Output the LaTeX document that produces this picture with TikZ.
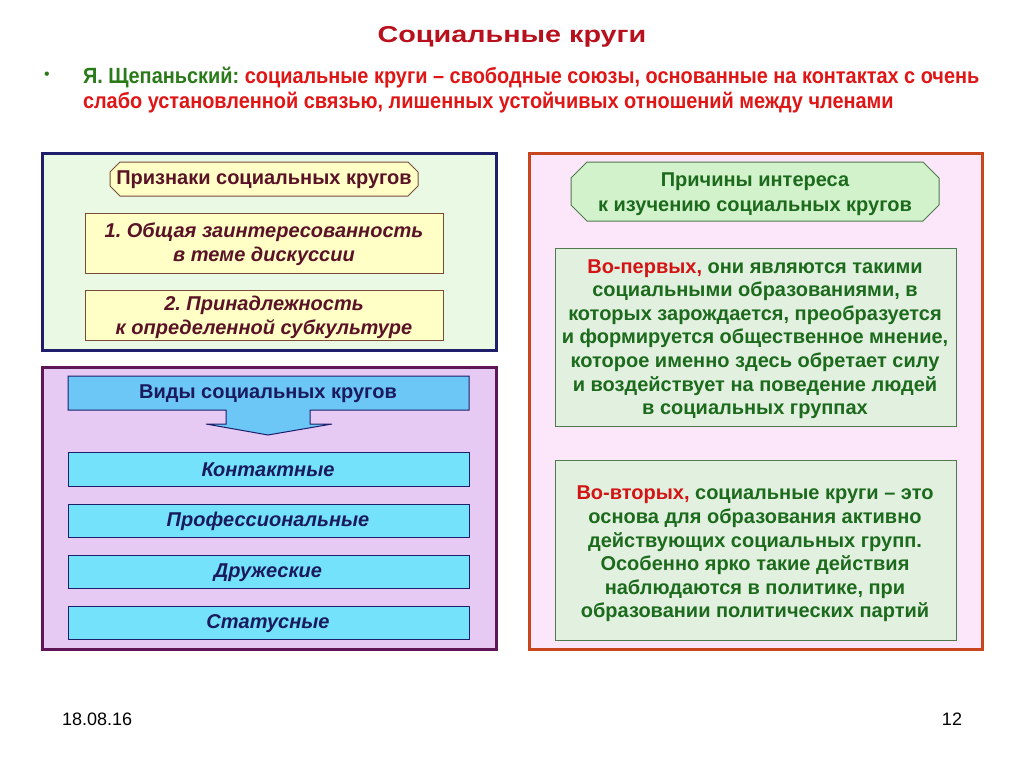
\documentclass[tikz,border=0pt]{standalone}
\usepackage{fontspec}
\setmainfont{Liberation Sans}
\newfontfamily\narrowfont[FakeStretch=0.905]{Liberation Sans}
\newfontfamily\widefont[FakeStretch=1.25]{Liberation Sans}
\usetikzlibrary{calc}
\frenchspacing
\definecolor{titlered}{HTML}{B8101C}
\definecolor{defgreen}{HTML}{2A7A1A}
\definecolor{defred}{HTML}{E01515}
\definecolor{navyb}{HTML}{1E1E6A}
\definecolor{greenbg}{HTML}{E9F9E4}
\definecolor{purpleb}{HTML}{5E1656}
\definecolor{lavbg}{HTML}{E6CAF4}
\definecolor{orangeb}{HTML}{C8461E}
\definecolor{pinkbg}{HTML}{FCE6FA}
\definecolor{yelbg}{HTML}{FFFFC6}
\definecolor{yelborder}{HTML}{7A4A3A}
\definecolor{maroon}{HTML}{5A1226}
\definecolor{bluehead}{HTML}{6CC6F6}
\definecolor{cyanitem}{HTML}{74E2FA}
\definecolor{navytext}{HTML}{1A1A5E}
\definecolor{lightgreenhead}{HTML}{D2F2CC}
\definecolor{greytextbox}{HTML}{E2F0E0}
\definecolor{darkgreentext}{HTML}{1C6A1C}
\definecolor{boxgreenborder}{HTML}{4E7A4E}
\definecolor{redword}{HTML}{D41414}
\tikzset{
  every node/.style={inner sep=0pt, outer sep=0pt},
  outerbox/.style={line width=3pt},
  yelitem/.style={draw=yelborder, fill=yelbg, line width=0.9pt},
  yeltext/.style={text=maroon, font=\bfseries\itshape\fontsize{20}{24}\selectfont, align=center},
  cyanbox/.style={draw=navyb, fill=cyanitem, line width=1pt},
  cyantext/.style={text=navytext, font=\bfseries\itshape\fontsize{20}{22}\selectfont},
  greenbox/.style={draw=boxgreenborder, fill=greytextbox, line width=1pt},
  greentext/.style={text=darkgreentext, font=\bfseries\fontsize{20}{23.6}\selectfont, align=center},
}
\begin{document}
\begin{tikzpicture}[x=1pt,y=-1pt]
\useasboundingbox[fill=white] (0,0) rectangle (1024,768);
% title
\node[text=titlered, font=\widefont\bfseries\fontsize{23}{26}\selectfont] (title) at (512,37) {Социальные круги};
% bullet
\node[text=defgreen, font=\fontsize{16}{18}\selectfont] (bullet) at (47,76) {•};
\node[anchor=west, font=\narrowfont\bfseries\fontsize{22}{24}\selectfont] (def1) at (83,78)
  {\textcolor{defgreen}{Я. Щепаньский:} \textcolor{defred}{социальные круги – свободные союзы, основанные на контактах с очень}};
\node[anchor=west, text=defred, font=\narrowfont\bfseries\fontsize{22}{24}\selectfont] (def2) at (83,103)
  {слабо установленной связью, лишенных устойчивых отношений между членами};
% left top
\draw[outerbox, draw=navyb, fill=greenbg] (42,153) rectangle (496,350);
\draw[draw=yelborder, fill=yelbg, line width=1pt]
  (120,162) -- (408,162) -- (418,172) -- (418,186) -- (408,196) -- (120,196) -- (110,186) -- (110,172) -- cycle;
\node[text=maroon, font=\bfseries\fontsize{20}{22}\selectfont] (prizn) at (264,180) {Признаки социальных кругов};
\draw[yelitem] (85,213) rectangle (443,273);
\node[yeltext] (p1) at (264,244) {1. Общая заинтересованность\\в теме дискуссии};
\draw[yelitem] (85,290) rectangle (443,340);
\node[yeltext] (p2) at (264,317) {2. Принадлежность\\к определенной субкультуре};
% left bottom
\draw[outerbox, draw=purpleb, fill=lavbg] (42,367) rectangle (496,649);
\draw[draw=navyb, fill=bluehead, line width=1pt]
  (68,376) -- (469,376) -- (469,410) -- (310,410) -- (310,424) -- (332,424) -- (268,435)
  -- (206,424) -- (226,424) -- (226,410) -- (68,410) -- cycle;
\node[text=navytext, font=\bfseries\fontsize{20}{22}\selectfont] (vidy) at (268,394) {Виды социальных кругов};
\draw[cyanbox] (68,452) rectangle (469,486);
\node[cyantext] (k1) at (268,470) {Контактные};
\draw[cyanbox] (68,504) rectangle (469,537);
\node[cyantext] (k2) at (268,521) {Профессиональные};
\draw[cyanbox] (68,555) rectangle (469,588);
\node[cyantext] (k3) at (268,573) {Дружеские};
\draw[cyanbox] (68,606) rectangle (469,639);
\node[cyantext] (k4) at (268,624) {Статусные};
% right
\draw[outerbox, draw=orangeb, fill=pinkbg] (529,153) rectangle (982,649);
\draw[draw=boxgreenborder, fill=lightgreenhead, line width=1pt]
  (587,162) -- (923,162) -- (939,178) -- (939,205) -- (923,221) -- (587,221) -- (571,205) -- (571,178) -- cycle;
\node[text=darkgreentext, font=\fontsize{20}{25}\selectfont\bfseries, align=center] (prich) at (755,194)
  {Причины интереса\\к изучению социальных кругов};
\draw[greenbox] (555,248) rectangle (956,426);
\node[greentext] (r1) at (755,339)
  {\textcolor{redword}{Во-первых,} они являются такими\\социальными образованиями, в\\которых зарождается, преобразуется\\и формируется общественное мнение,\\которое именно здесь обретает силу\\и воздействует на поведение людей\\в социальных группах};
\draw[greenbox] (555,460) rectangle (956,640);
\node[greentext] (r2) at (755,554)
  {\textcolor{redword}{Во-вторых,} социальные круги – это\\основа для образования активно\\действующих социальных групп.\\Особенно ярко такие действия\\наблюдаются в политике, при\\образовании политических партий};
% footer
\node[anchor=west, font=\fontsize{18}{20}\selectfont] (date) at (62,719) {18.08.16};
\node[anchor=east, font=\fontsize{18}{20}\selectfont] (page) at (962,719) {12};
\end{tikzpicture}
\end{document}
